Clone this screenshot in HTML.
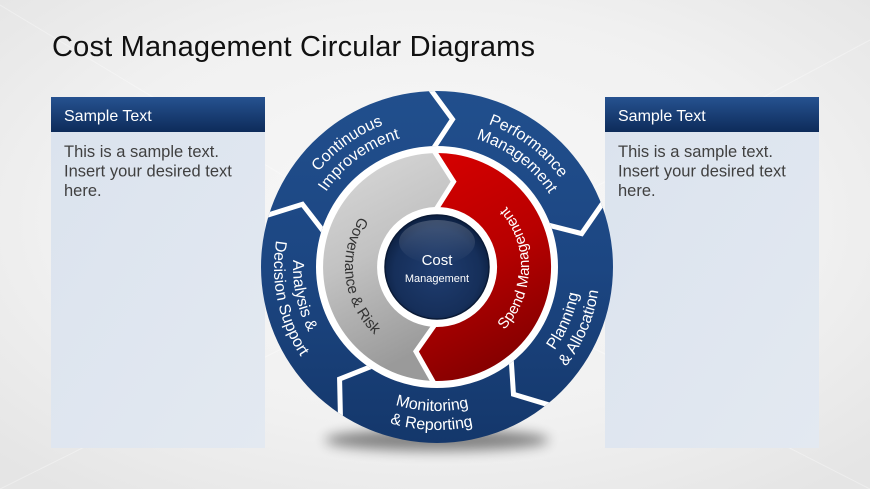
<!DOCTYPE html>
<html>
<head>
<meta charset="utf-8">
<style>
  html,body{margin:0;padding:0;width:870px;height:489px;overflow:hidden;background:#f0f0f0;}
  svg{display:block;}
  text{font-family:"Liberation Sans",Arial,sans-serif;}
</style>
</head>
<body>
<svg xmlns="http://www.w3.org/2000/svg" xmlns:xlink="http://www.w3.org/1999/xlink" width="870" height="489" viewBox="0 0 870 489">
  <defs>
    <radialGradient id="bg" cx="50%" cy="45%" r="70%">
      <stop offset="0" stop-color="#f8f8f8"/>
      <stop offset="0.6" stop-color="#f1f1f1"/>
      <stop offset="1" stop-color="#e5e5e5"/>
    </radialGradient>
    <linearGradient id="hdr" x1="0" y1="0" x2="0" y2="1">
      <stop offset="0" stop-color="#265290"/>
      <stop offset="1" stop-color="#0d2b5a"/>
    </linearGradient>
    <linearGradient id="body" x1="0" y1="0" x2="1" y2="1">
      <stop offset="0" stop-color="#dbe3ee"/>
      <stop offset="1" stop-color="#e3e9f1"/>
    </linearGradient>
    <linearGradient id="blue" x1="0" y1="0" x2="0" y2="1">
      <stop offset="0" stop-color="#214f8d"/>
      <stop offset="0.5" stop-color="#1c4682"/>
      <stop offset="1" stop-color="#14376b"/>
    </linearGradient>
    <linearGradient id="red" x1="0" y1="0" x2="0.3" y2="1">
      <stop offset="0" stop-color="#d80000"/>
      <stop offset="0.55" stop-color="#b80000"/>
      <stop offset="1" stop-color="#880000"/>
    </linearGradient>
    <linearGradient id="gray" x1="0" y1="0" x2="0.3" y2="1">
      <stop offset="0" stop-color="#dadada"/>
      <stop offset="0.5" stop-color="#c2c2c2"/>
      <stop offset="1" stop-color="#9a9a9a"/>
    </linearGradient>
    <radialGradient id="ball" cx="50%" cy="55%" r="55%">
      <stop offset="0" stop-color="#1f3d70"/>
      <stop offset="0.75" stop-color="#162f5a"/>
      <stop offset="1" stop-color="#0c1f40"/>
    </radialGradient>
    <linearGradient id="gloss" x1="0" y1="0" x2="0" y2="1">
      <stop offset="0" stop-color="#ffffff" stop-opacity="0.2"/>
      <stop offset="1" stop-color="#ffffff" stop-opacity="0"/>
    </linearGradient>
    <filter id="blur" x="-50%" y="-200%" width="200%" height="500%">
      <feGaussianBlur stdDeviation="6"/>
    </filter>
    <clipPath id="ann">
      <path clip-rule="evenodd" d="M 261,267 A176,176 0 1 1 613,267 A176,176 0 1 1 261,267 Z M 316,267 A121,121 0 1 0 558,267 A121,121 0 1 0 316,267 Z"/>
    </clipPath>
    <path id="cw152" d="M -152,0 A152,152 0 0 1 152,0"/>
    <path id="cw134" d="M -134,0 A134,134 0 0 1 134,0"/>
    <path id="ccw144" d="M -144,0 A144,144 0 0 0 144,0"/>
    <path id="ccw163" d="M -163,0 A163,163 0 0 0 163,0"/>
    <path id="ccw92" d="M -92,0 A92,92 0 0 0 92,0"/>
  </defs>

  <!-- background -->
  <rect x="0" y="0" width="870" height="489" fill="url(#bg)"/>
  <g stroke="#ffffff" stroke-opacity="0.35" stroke-width="1" fill="none">
    <line x1="0" y1="5" x2="440" y2="270"/>
    <line x1="870" y1="40" x2="440" y2="270"/>
    <line x1="0" y1="489" x2="440" y2="270"/>
    <line x1="870" y1="489" x2="440" y2="270"/>
  </g>

  <!-- title -->
  <text x="52" y="56" font-size="29" fill="#111111" textLength="483" lengthAdjust="spacing">Cost Management Circular Diagrams</text>

  <!-- left panel -->
  <rect x="51" y="132" width="214" height="316" fill="url(#body)"/>
  <rect x="51" y="97" width="214" height="35" fill="url(#hdr)"/>
  <text x="64" y="121" font-size="16" fill="#ffffff">Sample Text</text>
  <text font-size="16.5" fill="#404040">
    <tspan x="64" y="157">This is a sample text.</tspan>
    <tspan x="64" y="176.5">Insert your desired text</tspan>
    <tspan x="64" y="196">here.</tspan>
  </text>

  <!-- right panel -->
  <rect x="605" y="132" width="214" height="316" fill="url(#body)"/>
  <rect x="605" y="97" width="214" height="35" fill="url(#hdr)"/>
  <text x="618" y="121" font-size="16" fill="#ffffff">Sample Text</text>
  <text font-size="16.5" fill="#404040">
    <tspan x="618" y="157">This is a sample text.</tspan>
    <tspan x="618" y="176.5">Insert your desired text</tspan>
    <tspan x="618" y="196">here.</tspan>
  </text>

  <!-- shadow -->
  <ellipse cx="437" cy="440" rx="112" ry="11" fill="#000000" opacity="0.45" filter="url(#blur)"/>

  <!-- white base -->
  <circle cx="437" cy="267" r="122" fill="#ffffff"/>

  <!-- blue ring -->
  <path fill="url(#blue)" fill-rule="evenodd" d="M 261,267 A176,176 0 1 1 613,267 A176,176 0 1 1 261,267 Z M 316,267 A121,121 0 1 0 558,267 A121,121 0 1 0 316,267 Z"/>
  <g clip-path="url(#ann)" stroke="#ffffff" stroke-width="5" fill="none" stroke-linejoin="miter">
    <polyline points="427.47,85.25 452.52,119.31 430.98,152.16"/>
    <polyline points="605.75,198.82 581.69,233.59 543.63,223.92"/>
    <polyline points="553.99,406.42 513.48,394.29 510.92,355.09"/>
    <polyline points="340.55,421.35 339.58,379.07 376.06,364.53"/>
    <polyline points="262.05,216.83 302.41,204.24 326.46,235.30"/>
  </g>

  <!-- inner ring: red and gray -->
  <path fill="url(#red)" d="M 433.02,153.07 A114,114 0 1 1 435.01,380.98 L 415.95,351.42 L 435.95,326.99 A60,60 0 1 0 434.91,207.04 L 453.60,181.60 Z"/>
  <path fill="url(#gray)" d="M 435.01,380.98 A114,114 0 0 1 433.02,153.07 L 453.60,181.60 L 434.91,207.04 A60,60 0 0 0 435.95,326.99 L 415.95,351.42 Z"/>
  <g stroke="#ffffff" stroke-width="5" fill="none" stroke-linejoin="miter">
    <polyline points="432.88,149.07 453.60,181.60 435.05,211.03"/>
    <polyline points="434.94,384.98 415.95,351.42 436.02,322.99"/>
  </g>

  <!-- center ball -->
  <circle cx="437" cy="267" r="52" fill="url(#ball)" stroke="#0a1a36" stroke-width="1.5"/>
  <ellipse cx="437" cy="242" rx="38" ry="22" fill="url(#gloss)"/>
  <text x="437" y="265" font-size="15" fill="#ffffff" text-anchor="middle">Cost</text>
  <text x="437" y="282" font-size="11" fill="#ffffff" text-anchor="middle">Management</text>

  <!-- blue ring labels -->
  <g font-size="16" fill="#ffffff">
    <text transform="translate(437,267) rotate(324)"><textPath xlink:href="#cw152" href="#cw152" startOffset="50%" text-anchor="middle">Continuous</textPath></text>
    <text transform="translate(437,267) rotate(324)"><textPath xlink:href="#cw134" href="#cw134" startOffset="50%" text-anchor="middle">Improvement</textPath></text>

    <text transform="translate(437,267) rotate(37)"><textPath xlink:href="#cw152" href="#cw152" startOffset="50%" text-anchor="middle">Performance</textPath></text>
    <text transform="translate(437,267) rotate(37)"><textPath xlink:href="#cw134" href="#cw134" startOffset="50%" text-anchor="middle">Management</textPath></text>

    <text transform="translate(437,267) rotate(-67)"><textPath xlink:href="#ccw144" href="#ccw144" startOffset="50%" text-anchor="middle">Planning</textPath></text>
    <text transform="translate(437,267) rotate(-67)"><textPath xlink:href="#ccw163" href="#ccw163" startOffset="50%" text-anchor="middle">&amp; Allocation</textPath></text>

    <text transform="translate(437,267) rotate(2)"><textPath xlink:href="#ccw144" href="#ccw144" startOffset="50%" text-anchor="middle">Monitoring</textPath></text>
    <text transform="translate(437,267) rotate(2)"><textPath xlink:href="#ccw163" href="#ccw163" startOffset="50%" text-anchor="middle">&amp; Reporting</textPath></text>

    <text transform="translate(437,267) rotate(78)"><textPath xlink:href="#ccw144" href="#ccw144" startOffset="50%" text-anchor="middle">Analysis &amp;</textPath></text>
    <text transform="translate(437,267) rotate(78)"><textPath xlink:href="#ccw163" href="#ccw163" startOffset="50%" text-anchor="middle">Decision Support</textPath></text>
  </g>

  <!-- inner ring labels -->
  <text font-size="15" fill="#333333" transform="translate(437,267) rotate(83)"><textPath xlink:href="#ccw92" href="#ccw92" startOffset="50%" text-anchor="middle">Governance &amp; Risk</textPath></text>
  <text font-size="15" fill="#ffffff" transform="translate(437,267) rotate(-89)"><textPath xlink:href="#ccw92" href="#ccw92" startOffset="50%" text-anchor="middle">Spend Management</textPath></text>
</svg>
</body>
</html>
